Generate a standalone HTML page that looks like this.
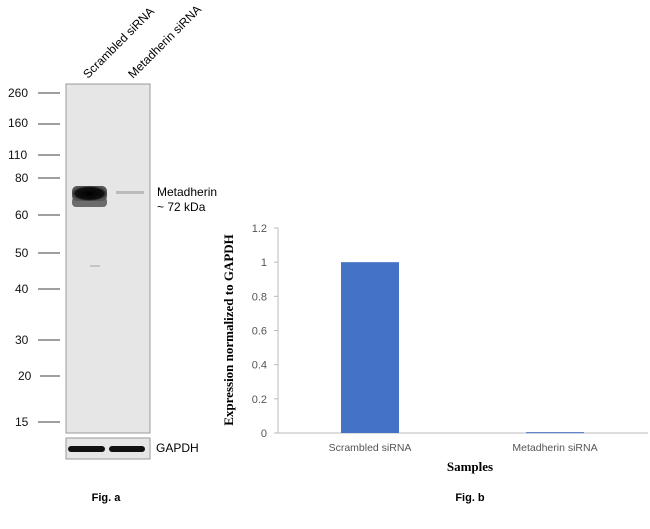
<!DOCTYPE html>
<html><head><meta charset="utf-8"><style>
body{margin:0;background:#fff;width:650px;height:524px;overflow:hidden;font-family:"Liberation Sans",sans-serif}
</style></head><body>
<svg width="650" height="524" xmlns="http://www.w3.org/2000/svg">
<defs>
<radialGradient id="band" cx="50%" cy="50%" r="50%"><stop offset="0" stop-color="#000"/><stop offset="0.8" stop-color="#111"/><stop offset="1" stop-color="#555"/></radialGradient>
</defs>
<g>
<rect x="66" y="84" width="84" height="349" fill="#e6e6e6" stroke="#999" stroke-width="1"/>
<rect x="72" y="197" width="35" height="10" rx="4" fill="#555" opacity="0.85"/>
<rect x="72" y="186" width="35" height="15" rx="5" fill="url(#band)"/>
<rect x="116" y="191" width="28" height="3" fill="#bbb"/>
<rect x="90" y="265" width="10" height="2" fill="#c5c5c5"/>
<rect x="66" y="438" width="84" height="21" fill="#e6e6e6" stroke="#999"/>
<rect x="68" y="446" width="37" height="6" rx="3" fill="#111"/>
<rect x="109" y="446" width="36" height="6" rx="3" fill="#111"/>
<g font-size="12" fill="#111">
<text x="8" y="97">260</text><line x1="38" y1="93" x2="60" y2="93" stroke="#666" stroke-width="1.3"/>
<text x="8" y="127">160</text><line x1="38" y1="124" x2="60" y2="124" stroke="#666" stroke-width="1.3"/>
<text x="8" y="159">110</text><line x1="38" y1="155" x2="60" y2="155" stroke="#666" stroke-width="1.3"/>
<text x="15" y="182">80</text><line x1="38" y1="178" x2="60" y2="178" stroke="#666" stroke-width="1.3"/>
<text x="15" y="219">60</text><line x1="38" y1="215" x2="60" y2="215" stroke="#666" stroke-width="1.3"/>
<text x="15" y="257">50</text><line x1="38" y1="253" x2="60" y2="253" stroke="#666" stroke-width="1.3"/>
<text x="15" y="293">40</text><line x1="38" y1="289" x2="60" y2="289" stroke="#666" stroke-width="1.3"/>
<text x="15" y="344">30</text><line x1="38" y1="340" x2="60" y2="340" stroke="#666" stroke-width="1.3"/>
<text x="18" y="380">20</text><line x1="40" y1="376" x2="60" y2="376" stroke="#666" stroke-width="1.3"/>
<text x="15" y="426">15</text><line x1="38" y1="422" x2="60" y2="422" stroke="#666" stroke-width="1.3"/>
</g>
<text x="88" y="79" font-size="12" transform="rotate(-45 88 79)">Scrambled siRNA</text>
<text x="133" y="79" font-size="12" transform="rotate(-45 133 79)">Metadherin siRNA</text>
<text x="157" y="196" font-size="12">Metadherin</text>
<text x="157" y="211" font-size="12">~ 72 kDa</text>
<text x="156" y="452" font-size="12">GAPDH</text>
<text x="106" y="501" font-size="11" font-weight="bold" text-anchor="middle">Fig. a</text>
</g>
<g id="chart"></g>
<text x="470" y="501" font-size="11" font-weight="bold" text-anchor="middle">Fig. b</text>
</svg>
<script>
const categories=["Scrambled siRNA","Metadherin siRNA"];
const values=[1,0.005];
const ticks=[0,0.2,0.4,0.6,0.8,1,1.2];
const tickLabels=["0","0.2","0.4","0.6","0.8","1","1.2"];
const NS="http://www.w3.org/2000/svg";
const g=document.getElementById('chart');
const x0=278,x1=648,yTop=228,yBot=433,yMax=1.2;
const y=v=>yBot-(v/yMax)*(yBot-yTop);
const bw=(x1-x0)/categories.length;
const xc=i=>x0+bw*(i+0.5)-0.5;
function mk(t,a){const e=document.createElementNS(NS,t);for(const k in a)e.setAttribute(k,a[k]);g.appendChild(e);return e;}
let ax=mk('line',{x1:x0,y1:yTop,x2:x0,y2:yBot,stroke:'#bbb'});


let xa=mk('line',{x1:x0,y1:yBot,x2:x1,y2:yBot,stroke:'#bbb'});


ticks.forEach((t,i)=>{
 let tk=mk('line',{x1:x0-4,y1:y(t),x2:x0,y2:y(t),stroke:'#bbb'});
 
 
 let tl=mk('text',{x:x0-11,y:y(t)+4,'font-size':11,fill:'#555','text-anchor':'end'});
 tl.textContent=tickLabels[i];
 
 
});
categories.forEach((c,i)=>{
 const w=58;
 let b=mk('rect',{x:xc(i)-w/2,y:y(values[i]),width:w,height:Math.max(1,yBot-y(values[i])),fill:'#4472c4'});
 
 
 let l=mk('text',{x:xc(i),y:451,'font-size':10.5,fill:'#555','text-anchor':'middle'});
 l.textContent=c;
 
 
});
let xt=mk('text',{x:470,y:471,'font-size':13,'font-weight':'bold','font-family':'Liberation Serif, serif','text-anchor':'middle'});
xt.textContent='Samples';


let yt=mk('text',{x:0,y:0,'font-size':13,'font-weight':'bold','font-family':'Liberation Serif, serif','text-anchor':'middle',transform:'translate(233,330) rotate(-90)'});
yt.textContent='Expression normalized to GAPDH';


</script>
</body></html>
